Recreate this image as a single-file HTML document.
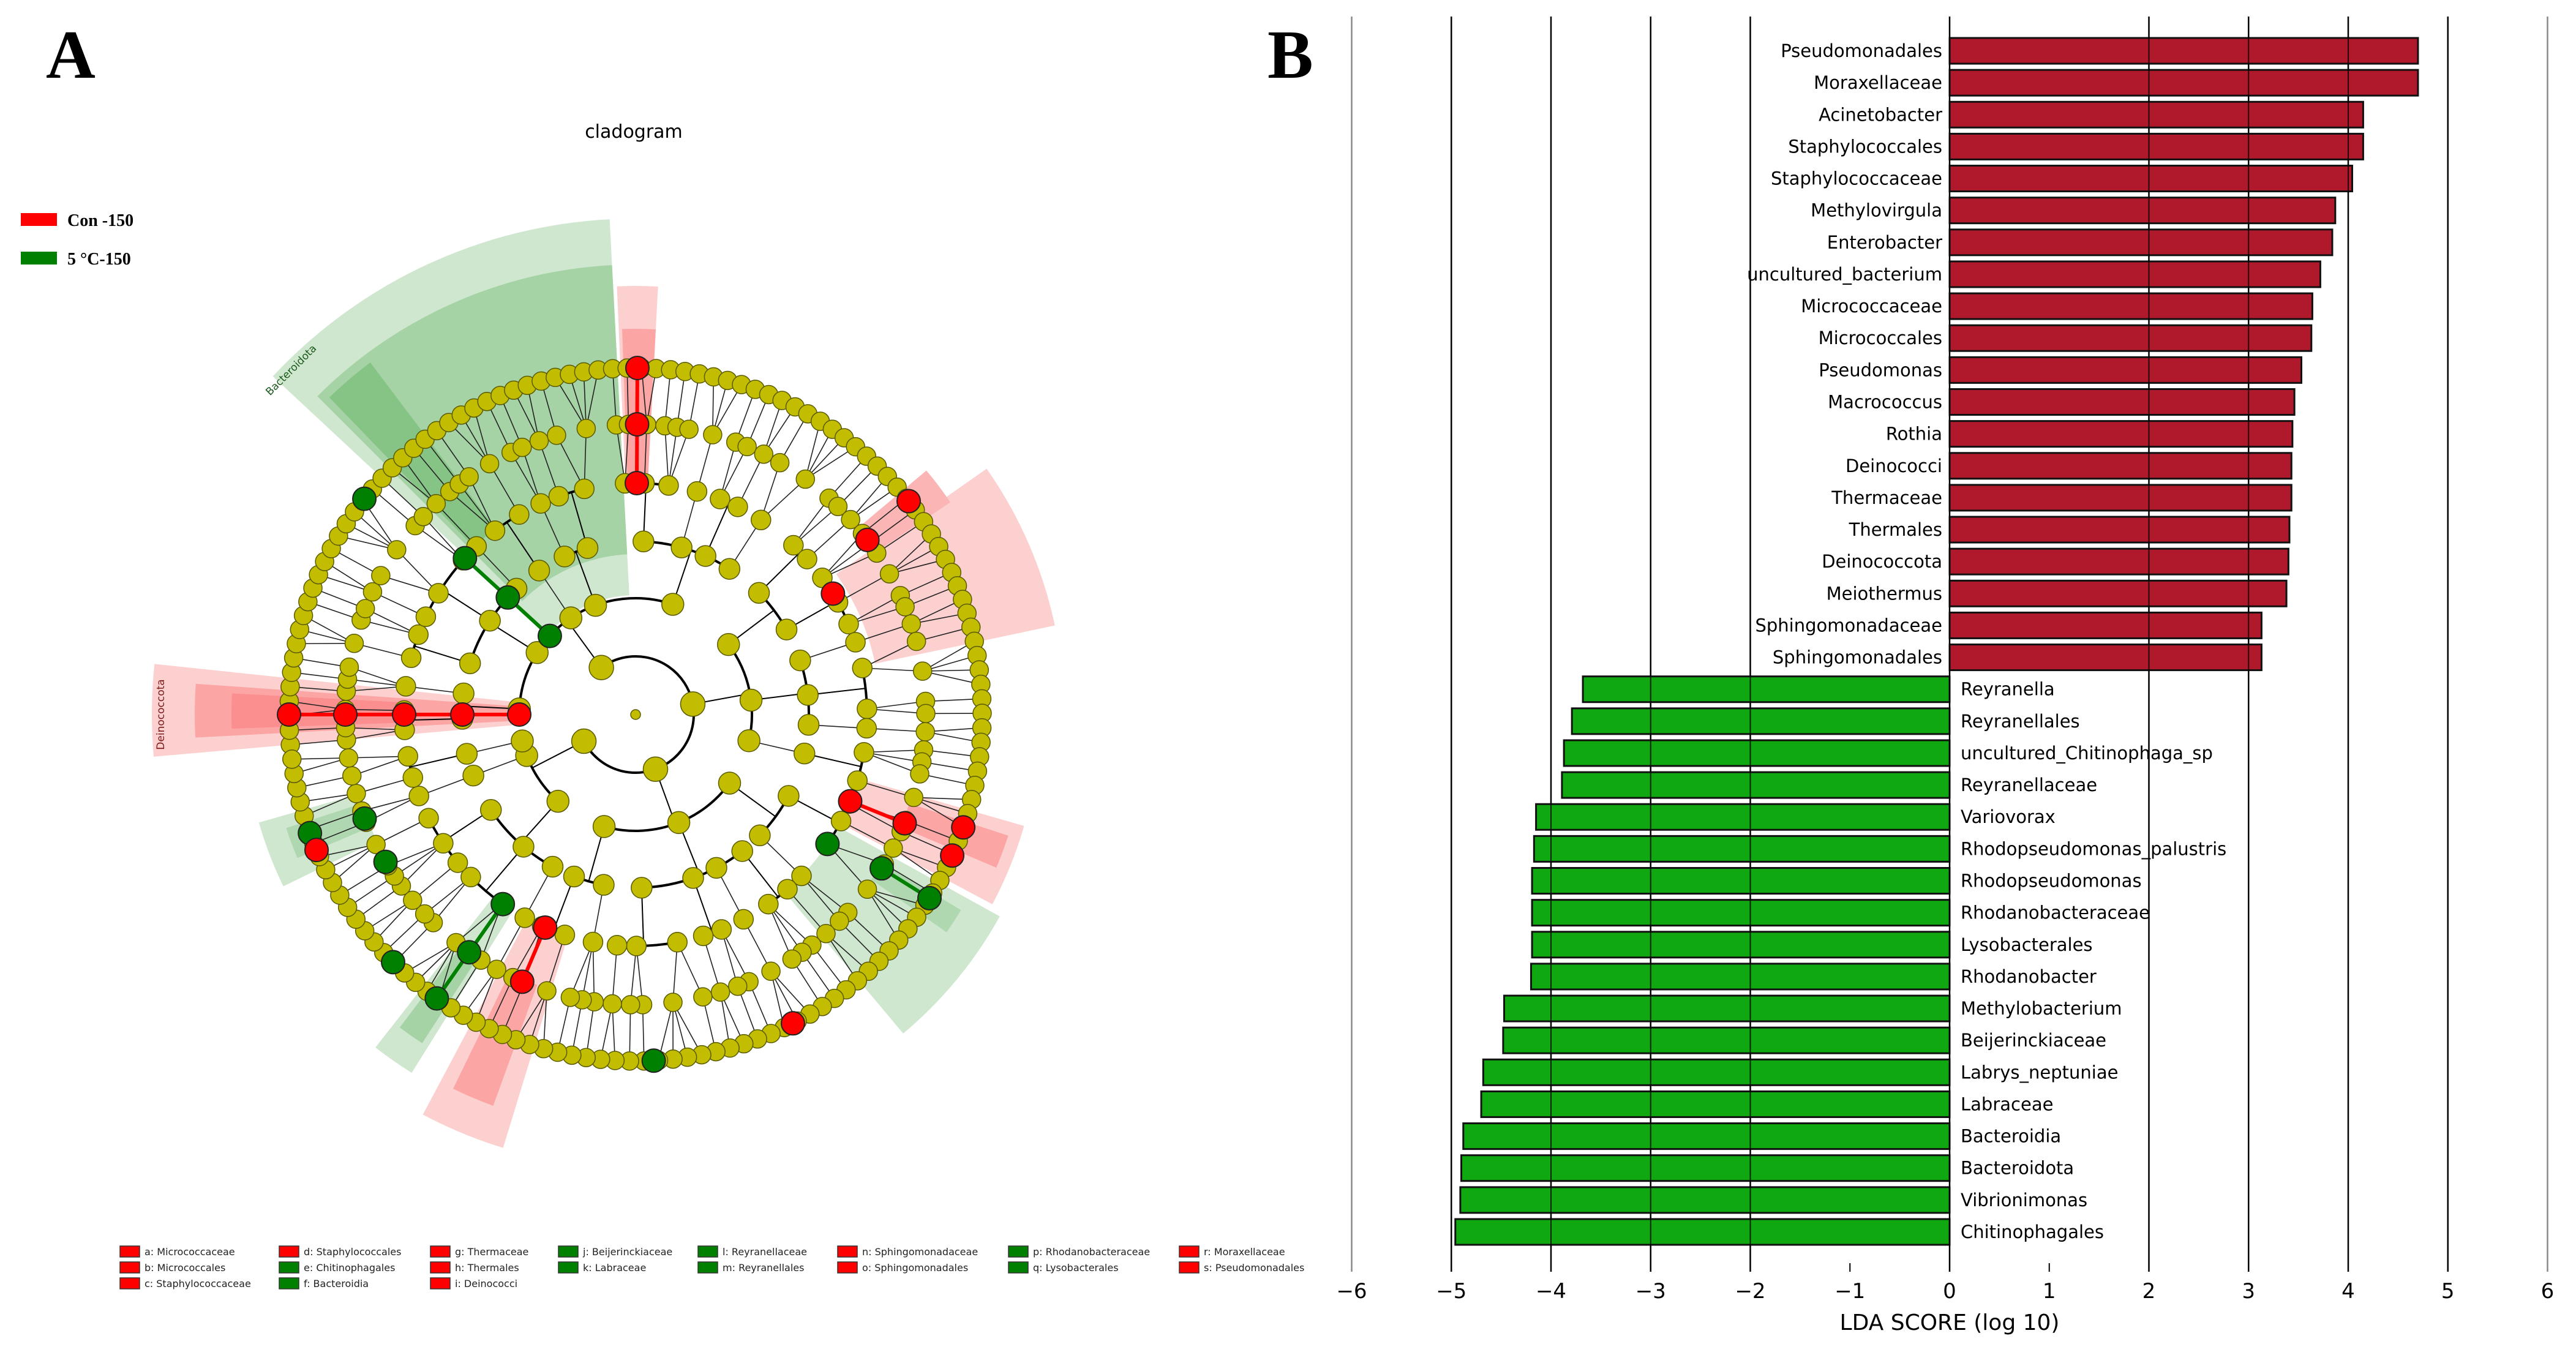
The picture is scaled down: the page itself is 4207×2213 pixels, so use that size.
<!DOCTYPE html>
<html><head><meta charset="utf-8">
<style>
html,body{margin:0;padding:0;background:#fff;}
svg{display:block;}
</style></head>
<body>
<svg id="fig" xmlns="http://www.w3.org/2000/svg" width="4207" height="2213" viewBox="0 0 4207 2213">
  <rect x="0" y="0" width="4207" height="2213" fill="#fff"/>
  <text x="75" y="127" font-family="Liberation Serif, serif" font-weight="bold" font-size="112">A</text>
  <text x="2070" y="127" font-family="Liberation Serif, serif" font-weight="bold" font-size="112">B</text>
  <text x="1035" y="225" text-anchor="middle" font-family="DejaVu Sans, sans-serif" font-size="30">cladogram</text>
  <g>
    <rect x="34" y="348" width="59" height="21" fill="#ff0000"/>
    <text x="110" y="369" font-family="Liberation Serif, serif" font-weight="bold" font-size="28">Con -150</text>
    <rect x="34" y="411" width="59" height="21" fill="#008000"/>
    <text x="110" y="432" font-family="Liberation Serif, serif" font-weight="bold" font-size="28">5 °C-150</text>
  </g>
  <g id="clado"></g>
  <g id="cladoLegend"></g>
  <g id="bars"></g>
</svg>
<script>
// ---------- LDA bar chart data ----------
var categories = ["Pseudomonadales","Moraxellaceae","Acinetobacter","Staphylococcales","Staphylococcaceae","Methylovirgula","Enterobacter","uncultured_bacterium","Micrococcaceae","Micrococcales","Pseudomonas","Macrococcus","Rothia","Deinococci","Thermaceae","Thermales","Deinococcota","Meiothermus","Sphingomonadaceae","Sphingomonadales","Reyranella","Reyranellales","uncultured_Chitinophaga_sp","Reyranellaceae","Variovorax","Rhodopseudomonas_palustris","Rhodopseudomonas","Rhodanobacteraceae","Lysobacterales","Rhodanobacter","Methylobacterium","Beijerinckiaceae","Labrys_neptuniae","Labraceae","Bacteroidia","Bacteroidota","Vibrionimonas","Chitinophagales"];
var ldaValues = [4.70,4.70,4.15,4.15,4.04,3.87,3.84,3.72,3.64,3.63,3.53,3.46,3.44,3.43,3.43,3.41,3.40,3.38,3.13,3.13,-3.68,-3.79,-3.87,-3.89,-4.15,-4.17,-4.19,-4.19,-4.19,-4.20,-4.47,-4.48,-4.68,-4.70,-4.88,-4.90,-4.91,-4.96];
var tickValues = [-6,-5,-4,-3,-2,-1,0,1,2,3,4,5,6];
var tickLabels = ["\u22126","\u22125","\u22124","\u22123","\u22122","\u22121","0","1","2","3","4","5","6"];

var NS = "http://www.w3.org/2000/svg";
function mk(tag, attrs, parent){ var e=document.createElementNS(NS,tag); for(var k in attrs) e.setAttribute(k,attrs[k]); parent.appendChild(e); return e; }

(function(){
  var g = document.getElementById('bars');
  var x0 = 3184, unit = 162.75;
  function xs(v){ return x0 + v*unit; }
  var rowTop = 83, pitch = (2012-83)/(categories.length-1);
  function ys(i){ return rowTop + i*pitch; }
  var gridTop = 27, gridBot = 2077;
  tickValues.forEach(function(t,i){
    if (t===-1 || t===1){
      var tk = mk('line',{x1:xs(t),x2:xs(t),y1:2063,y2:gridBot,stroke:'#000','stroke-width':2},g);
      
      
    } else {
      var gl = mk('line',{x1:xs(t),x2:xs(t),y1:gridTop,y2:gridBot,stroke:(Math.abs(t)===6?'#888':'#000'),'stroke-width':2.5},g);
      
      
    }
    var tl = mk('text',{x:xs(t),y:2120,'text-anchor':'middle','font-family':'DejaVu Sans, sans-serif','font-size':34},g);
    tl.textContent = tickLabels[i];
    
    
  });
  categories.forEach(function(c,i){
    var v = ldaValues[i], cy = ys(i);
    var left = Math.min(xs(0), xs(v)), w = Math.abs(xs(v)-xs(0));
    var b = mk('rect',{x:left,y:cy-21,width:w,height:42,fill:(v>0?'#b0182c':'#10a810'),stroke:'#111','stroke-width':3},g);
    
    
    var t = mk('text',{x:(v>0? xs(0)-12 : xs(0)+18), y:cy+10,'text-anchor':(v>0?'end':'start'),'font-family':'DejaVu Sans, sans-serif','font-size':29},g);
    t.textContent = c;
    
    
  });
  tickValues.forEach(function(t){
    if (Math.abs(t)===1 || Math.abs(t)===6) return;
    var gl = mk('line',{x1:xs(t),x2:xs(t),y1:gridTop,y2:gridBot,stroke:'#000','stroke-width':2,'stroke-opacity':0.8},g);
    
    
  });
  var at = mk('text',{x:xs(0),y:2172,'text-anchor':'middle','font-family':'DejaVu Sans, sans-serif','font-size':36},g);
  at.textContent = 'LDA SCORE (log 10)';
  
  
})();

// ---------- Cladogram ----------
var CX = 1038, CY = 1167;
var ringR = [0, 95, 190, 283, 378, 474, 566];
var leafCount = 150;
var groupPatterns = [null,[5,3,3],[2,3,1,2,4],[2,1,2,3,1],[2,1,3,1,2,1,2],[1,1,2,1,1,1,3,1,1,2,1,4]];
var sectors = [
  [-47,-3,195,810,'#cfe6cf'],[-45,-3,262,735,'#a5d3a5'],[-44,-37,380,720,'#86c486'],
  [-95,-84,190,790,'#fdd0d0'],[-93,-86,190,720,'#fca5a5'],[-92,-87,378,660,'#fb8f8f'],
  [-2.5,3,380,700,'#fdd0d0'],[-2,3,380,630,'#fca5a5'],
  [55,78,400,700,'#fdd0d0'],[50,56,470,620,'#fbb5b5'],
  [106,118,378,660,'#fdd0d0'],[108,113,470,640,'#fca5a5'],
  [119,140,378,680,'#cfe6cf'],[121,125,470,620,'#b0d8b0'],
  [-163,-152,378,740,'#fdd0d0'],[-160,-154,470,680,'#fca5a5'],
  [-148,-142,378,690,'#cfe6cf'],[-147,-143,470,640,'#a5d3a5'],
  [-116,-106,470,640,'#cfe6cf'],[-113,-108,470,600,'#b0d8b0']
];
var chains = [
  [0.3,4,6,'#ff0000'],[-90,2,6,'#ff0000'],[-47.5,2,4,'#008000'],[-51.5,6,6,'#008000'],
  [58.5,4,4,'#ff0000'],[53,5,5,'#ff0000'],[52,6,6,'#ff0000'],
  [112,4,5,'#ff0000'],[114,6,6,'#ff0000'],[109,6,6,'#ff0000'],
  [124,4,4,'#008000'],[122,5,6,'#008000'],[153,6,6,'#ff0000'],[177,6,6,'#008000'],
  [-157,4,5,'#ff0000'],[-145,4,6,'#008000'],[-135.6,6,6,'#008000'],
  [-120.5,5,5,'#008000'],[-111,5,5,'#008000'],[-110,6,6,'#008000'],[-113,6,6,'#ff0000']
];
var cladeLabels = [["Bacteroidota",-45,790],["Deinococcota",-90,770]];

(function(){
  var g = document.getElementById('clado');
  function pt(a,r){ var t=a*Math.PI/180; return [CX+r*Math.sin(t), CY-r*Math.cos(t)]; }
  function arcPath(a1,a2,r){ var p1=pt(a1,r),p2=pt(a2,r); var large=(a2-a1)>180?1:0; return 'M'+p1[0]+' '+p1[1]+' A'+r+' '+r+' 0 '+large+' 1 '+p2[0]+' '+p2[1]; }
  function sector(a1,a2,r1,r2){ var o1=pt(a1,r2),o2=pt(a2,r2),i2=pt(a2,r1),i1=pt(a1,r1); var L=(a2-a1)>180?1:0;
    return 'M'+o1[0]+' '+o1[1]+' A'+r2+' '+r2+' 0 '+L+' 1 '+o2[0]+' '+o2[1]+' L'+i2[0]+' '+i2[1]+' A'+r1+' '+r1+' 0 '+L+' 0 '+i1[0]+' '+i1[1]+'Z'; }
  sectors.forEach(function(s){
    var p = mk('path',{d:sector(s[0],s[1],s[2],s[3]),fill:s[4]},g);
    
    
  });
  var levels = [];
  var leaves = [];
  for (var i=0;i<leafCount;i++) leaves.push({a:-95+i*360/leafCount, kids:[]});
  levels[6] = leaves;
  for (var L=5; L>=1; L--){
    var pat = groupPatterns[L], arr=[], idx=0, k=0, ch=levels[L+1];
    while(idx<ch.length){ var n=pat[k%pat.length]; k++; var kids=ch.slice(idx, idx+n); idx+=n;
      var a=0; kids.forEach(function(c){a+=c.a;}); arr.push({a:a/kids.length, kids:kids}); }
    levels[L]=arr;
  }
  levels[0]=[{a:0,kids:levels[1]}];
  var lines = mk('g',{},g);
  
  
  for (var L=0; L<=5; L++){
    levels[L].forEach(function(p){
      var rp = ringR[L], rc = ringR[L+1];
      if (L<=3 && p.kids.length>1){
        var amin=p.kids[0].a, amax=p.kids[p.kids.length-1].a;
        mk('path',{d:arcPath(amin,amax,rc),fill:'none',stroke:'#000','stroke-width':4},lines);
        if (L>0){ var a1=pt(p.a,rp),a2=pt(p.a,rc); mk('line',{x1:a1[0],y1:a1[1],x2:a2[0],y2:a2[1],stroke:'#000','stroke-width':2},lines); }
      } else {
        p.kids.forEach(function(c){ var a1=pt(p.a,rp),a2=pt(c.a,rc); if(L===0) return; mk('line',{x1:a1[0],y1:a1[1],x2:a2[0],y2:a2[1],stroke:'#222','stroke-width':1.6},lines); });
      }
    });
  }
  var nodes = mk('g',{},g);
  
  
  var nodeR=[8,20,18,17,16,15,15];
  for (var L=6; L>=0; L--){
    levels[L].forEach(function(n){
      var p=pt(n.a,ringR[L]);
      var c = mk('circle',{cx:p[0],cy:p[1],r:nodeR[L],fill:'#c2bd00',stroke:'#5a5a00','stroke-width':1.5},nodes);
      
      
    });
  }
  chains.forEach(function(ch){
    if (ch[2]>ch[1]){ var a1=pt(ch[0],ringR[ch[1]]),a2=pt(ch[0],ringR[ch[2]]);
      var ln=mk('line',{x1:a1[0],y1:a1[1],x2:a2[0],y2:a2[1],stroke:ch[3],'stroke-width':6},g);
      
       }
    for (var L=ch[1]; L<=ch[2]; L++){
      var p=pt(ch[0],ringR[L]);
      var c=mk('circle',{cx:p[0],cy:p[1],r:19,fill:ch[3],stroke:'#222','stroke-width':2},g);
      
      
    }
  });
  cladeLabels.forEach(function(l){
    var p=pt(l[1],l[2]);
    var t=mk('text',{x:p[0],y:p[1],'text-anchor':'middle','font-family':'DejaVu Sans, sans-serif','font-size':17,fill:(l[0]==='Bacteroidota'?'#1a5a1a':'#7a1a1a'),transform:'rotate('+(l[1]===-90?-90:l[1])+' '+p[0]+' '+p[1]+')'},g);
    t.textContent=l[0];
    
    
  });
})();

var keyEntries = [
 ["a: Micrococcaceae","r"],["b: Micrococcales","r"],["c: Staphylococcaceae","r"],
 ["d: Staphylococcales","r"],["e: Chitinophagales","g"],["f: Bacteroidia","g"],
 ["g: Thermaceae","r"],["h: Thermales","r"],["i: Deinococci","r"],
 ["j: Beijerinckiaceae","g"],["k: Labraceae","g"],
 ["l: Reyranellaceae","g"],["m: Reyranellales","g"],
 ["n: Sphingomonadaceae","r"],["o: Sphingomonadales","r"],
 ["p: Rhodanobacteraceae","g"],["q: Lysobacterales","g"],
 ["r: Moraxellaceae","r"],["s: Pseudomonadales","r"]
];
var keyColumnSizes = [3,3,3,2,2,2,2,2];
(function(){
  var g=document.getElementById('cladoLegend');
  var colX=[196,456,703,912,1140,1368,1647,1926], rowY=[2044,2070,2096];
  var idx=0;
  keyColumnSizes.forEach(function(n,ci){
    for (var r=0;r<n;r++){
      var e=keyEntries[idx++];
      var s=mk('rect',{x:colX[ci],y:rowY[r]-9,width:32,height:18,fill:(e[1]==='r'?'#ff0000':'#008000'),stroke:'#333','stroke-width':1.5},g);
      
      
      var t=mk('text',{x:colX[ci]+40,y:rowY[r]+6,'font-family':'DejaVu Sans, sans-serif','font-size':16,fill:'#222'},g);
      t.textContent=e[0];
      
      
    }
  });
})();
</script>
</body></html>
